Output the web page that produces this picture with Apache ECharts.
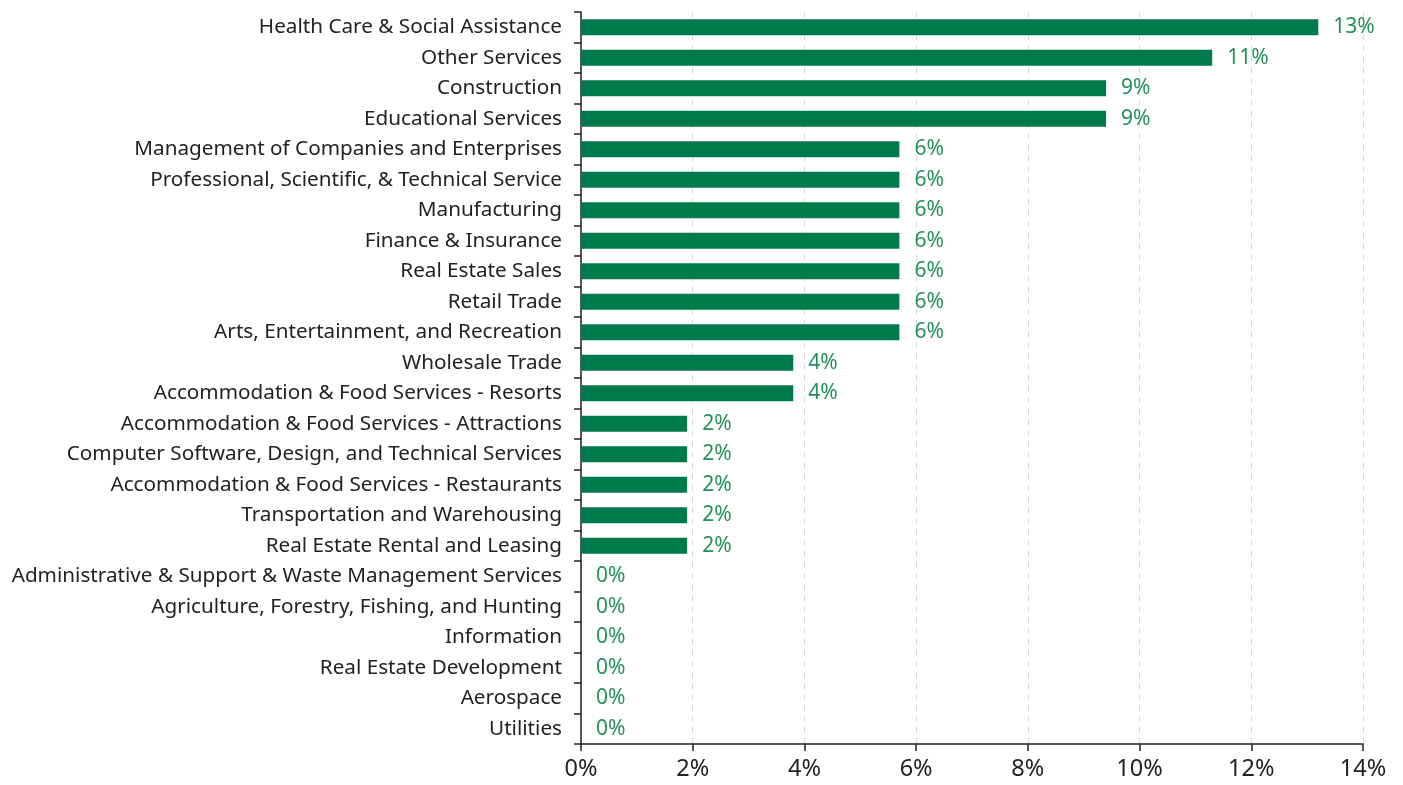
<!DOCTYPE html>
<html>
<head>
<meta charset="utf-8">
<script src="https://cdn.jsdelivr.net/npm/echarts@6/dist/echarts.min.js"></script>
<style>
  html, body { margin: 0; padding: 0; background: #fff; }
  #chart { width: 1403px; height: 785px; }
</style>
</head>
<body>
<div id="chart"></div>
<script>
// industries, top to bottom as drawn
var industries = [
  'Health Care & Social Assistance',
  'Other Services',
  'Construction',
  'Educational Services',
  'Management of Companies and Enterprises',
  'Professional, Scientific, & Technical Service',
  'Manufacturing',
  'Finance & Insurance',
  'Real Estate Sales',
  'Retail Trade',
  'Arts, Entertainment, and Recreation',
  'Wholesale Trade',
  'Accommodation & Food Services - Resorts',
  'Accommodation & Food Services - Attractions',
  'Computer Software, Design, and Technical Services',
  'Accommodation & Food Services - Restaurants',
  'Transportation and Warehousing',
  'Real Estate Rental and Leasing',
  'Administrative & Support & Waste Management Services',
  'Agriculture, Forestry, Fishing, and Hunting',
  'Information',
  'Real Estate Development',
  'Aerospace',
  'Utilities'
]
// share in percent
var shares = [
  13.2, 11.3, 9.4, 9.4, 5.7, 5.7, 5.7, 5.7, 5.7, 5.7, 5.7,
  3.8, 3.8, 1.9, 1.9, 1.9, 1.9, 1.9,
  0, 0, 0, 0, 0, 0
]
var xTicks = [0, 2, 4, 6, 8, 10, 12, 14]

var font = 'Noto Sans'
var myChart = echarts.init(document.getElementById('chart'))
var option = {
  animation: false,
  grid: {
    top: 12,
    left: 581,
    right: 40,
    bottom: 41
  },
  xAxis: {
    type: 'value',
    min: xTicks[0],
    max: xTicks[xTicks.length - 1],
    interval: 2,
    axisLine: { show: true, lineStyle: { color: '#222', width: 1.5 } },
    axisTick: { show: true, length: 7, lineStyle: { color: '#222', width: 1.5 } },
    axisLabel: {
      color: '#222',
      fontFamily: font,
      fontSize: 23.5,
      margin: 13,
      formatter: function (v) { return v + '%' }
    },
    splitLine: {
      show: true,
      lineStyle: { color: '#d9d9d9', type: [6, 5], width: 1 }
    }
  },
  yAxis: {
    type: 'category',
    inverse: true,
    data: industries,
    axisLine: { show: true, lineStyle: { color: '#222', width: 1.5 } },
    axisTick: { show: true, length: 7, lineStyle: { color: '#222', width: 1.5 } },
    axisLabel: {
      color: '#222',
      fontFamily: font,
      fontSize: 20.7,
      margin: 19
    }
  },
  series: [
    {
      type: 'bar',
      data: shares,
      barWidth: 16,
      itemStyle: { color: '#007a4c' },
      label: {
        show: true,
        position: 'right',
        distance: 15,
        color: '#23905e',
        fontFamily: font,
        fontSize: 21,
        formatter: function (p) { return Math.round(p.value) + '%' }
      }
    }
  ]
}
option && myChart.setOption(option)
</script>
</body>
</html>
